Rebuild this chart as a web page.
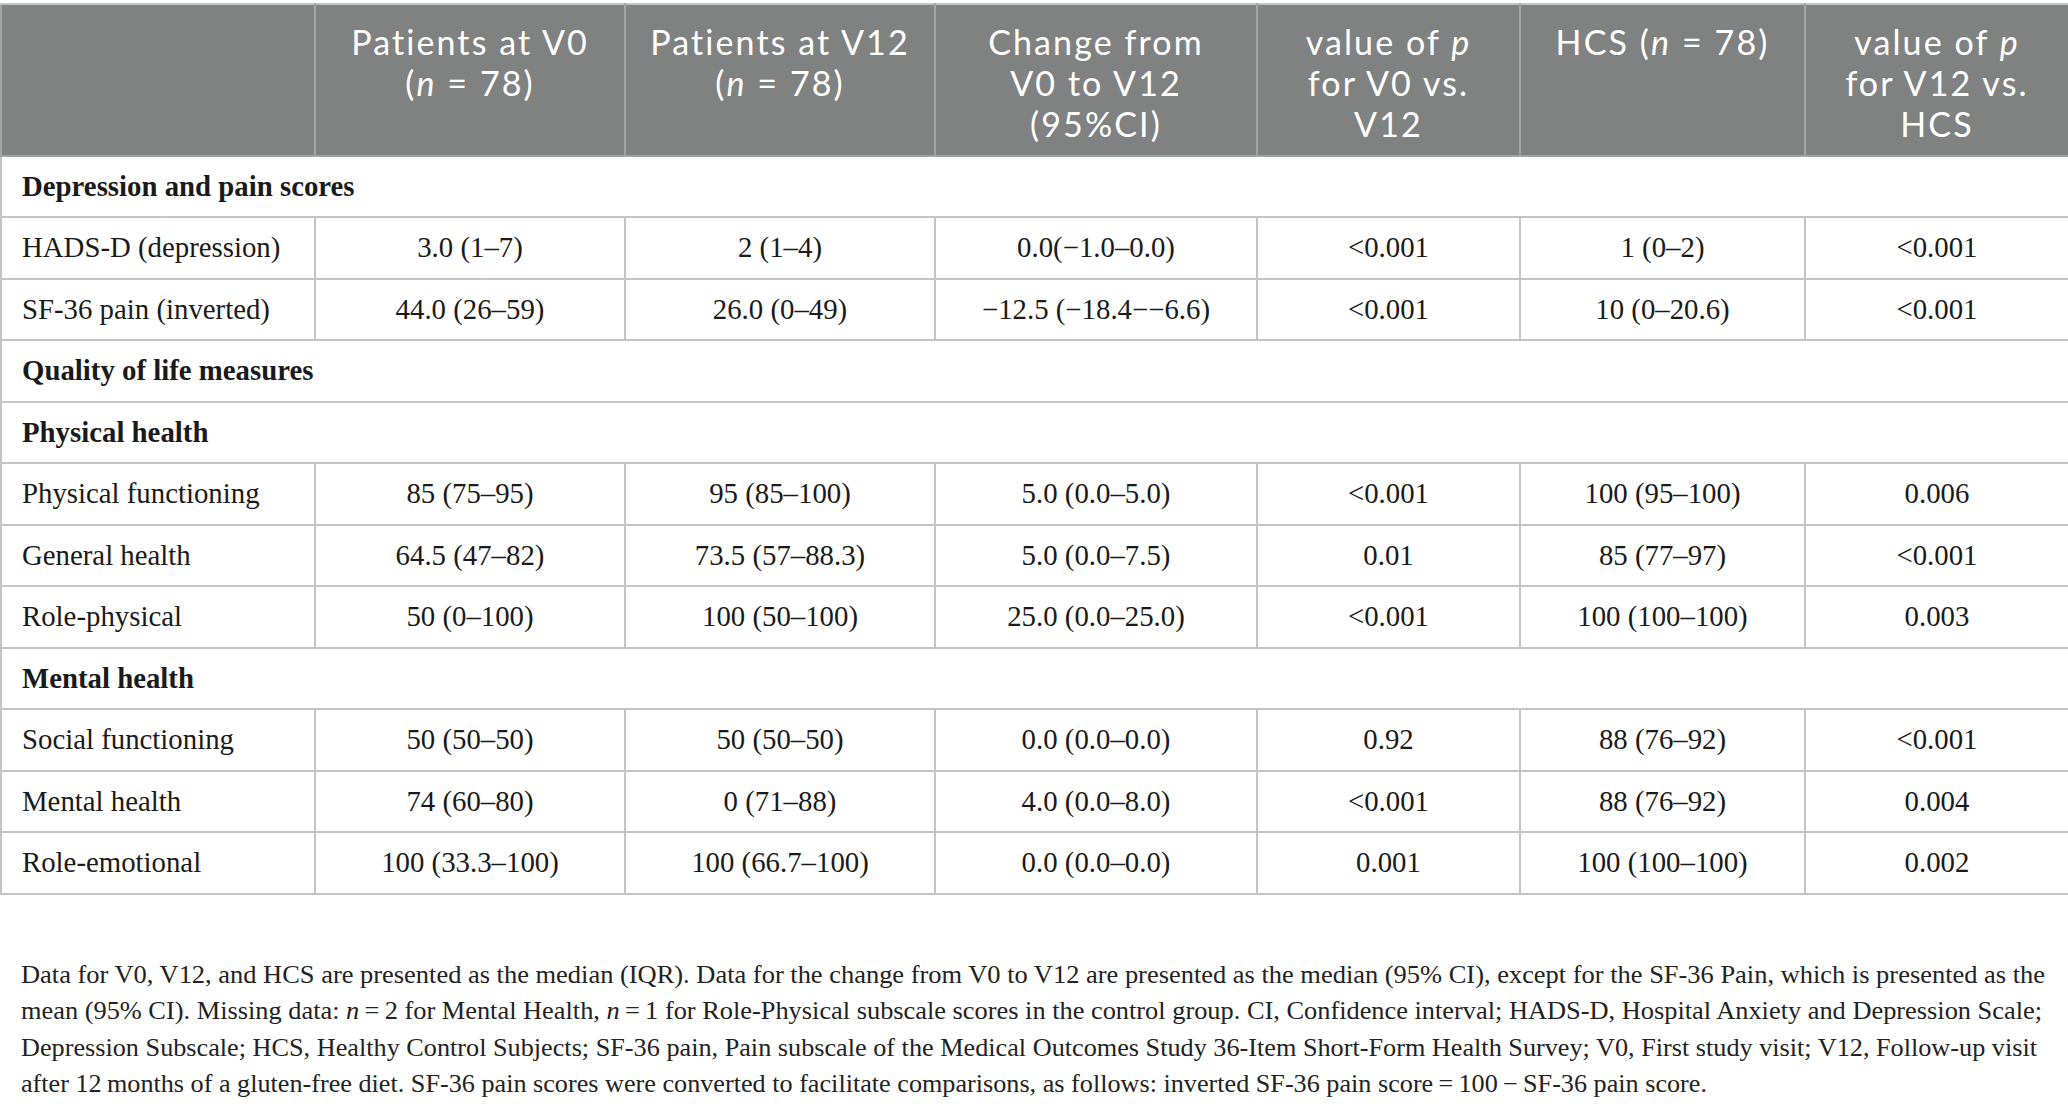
<!DOCTYPE html>
<html>
<head>
<meta charset="utf-8">
<script src="https://cdn.jsdelivr.net/npm/chart.js@4.4.1/dist/chart.umd.min.js"></script>
<style>
  html, body { margin: 0; padding: 0; background: #fff; }
  body { width: 2068px; height: 1111px; overflow: hidden; }
  #wrap { padding-top: 3px; }
  table { border-collapse: collapse; table-layout: fixed; width: 2068px; }
  th {
    background: #808281; color: #fff; font-family: Lato, "Open Sans", sans-serif;
    font-weight: 400; font-size: 34px; letter-spacing: 2.1px; line-height: 41px; vertical-align: top;
    text-align: center; padding: 16px 2px 0 2px; height: 133.5px;
    border: 2px solid #a4a6a5; border-top-color: #c4c4c4; white-space: nowrap;
  }
  td {
    font-family: "Liberation Serif", "DejaVu Serif", serif; font-size: 28.8px;
    color: #1a1a1a; height: 59.5px; padding: 0; text-align: center;
    border: 2px solid #c4c4c4; white-space: nowrap;
  }
  td.lbl { text-align: left; padding-left: 20px; }
  td.sec { text-align: left; padding-left: 20px; font-weight: bold; }
  #notes {
    margin: 62px 0 0 21px; font-family: "Liberation Serif", "DejaVu Serif", serif;
    font-size: 25.5px; line-height: 36.5px; color: #222; white-space: nowrap;
  }
  #notes div { transform-origin: left center; }
</style>
</head>
<body>
<div id="wrap">
  <table id="tbl"></table>
  <div id="notes"></div>
</div>
<script>
// column headers
const colWidths = [314, 310, 310, 322, 263, 285, 264];
const headers = [
  "",
  "Patients at V0<br>(<i>n</i> = 78)",
  "Patients at V12<br>(<i>n</i> = 78)",
  "Change from<br>V0 to V12<br>(95%CI)",
  "value of <i>p</i><br>for V0 vs.<br>V12",
  "HCS (<i>n</i> = 78)",
  "value of <i>p</i><br>for V12 vs.<br>HCS"
];

// section headings and which section each data row belongs to
const sections = ["Depression and pain scores", "Quality of life measures", "Physical health", "Mental health"];
const rowSection = [0, 0, 2, 2, 2, 3, 3, 3];

const rowLabels = ["HADS-D (depression)", "SF-36 pain (inverted)", "Physical functioning", "General health",
  "Role-physical", "Social functioning", "Mental health", "Role-emotional"];
const v0 = ["3.0 (1–7)", "44.0 (26–59)", "85 (75–95)", "64.5 (47–82)", "50 (0–100)", "50 (50–50)", "74 (60–80)", "100 (33.3–100)"];
const v12 = ["2 (1–4)", "26.0 (0–49)", "95 (85–100)", "73.5 (57–88.3)", "100 (50–100)", "50 (50–50)", "0 (71–88)", "100 (66.7–100)"];
const change = ["0.0(−1.0–0.0)", "−12.5 (−18.4−−6.6)", "5.0 (0.0–5.0)", "5.0 (0.0–7.5)", "25.0 (0.0–25.0)", "0.0 (0.0–0.0)", "4.0 (0.0–8.0)", "0.0 (0.0–0.0)"];
const pV0V12 = ["<0.001", "<0.001", "<0.001", "0.01", "<0.001", "0.92", "<0.001", "0.001"];
const hcs = ["1 (0–2)", "10 (0–20.6)", "100 (95–100)", "85 (77–97)", "100 (100–100)", "88 (76–92)", "88 (76–92)", "100 (100–100)"];
const pV12HCS = ["<0.001", "<0.001", "0.006", "<0.001", "0.003", "<0.001", "0.004", "0.002"];

const notes = [
  "Data for V0, V12, and HCS are presented as the median (IQR). Data for the change from V0 to V12 are presented as the median (95% CI), except for the SF-36 Pain, which is presented as the",
  "mean (95% CI). Missing data: <i>n</i>\u2009=\u20092 for Mental Health, <i>n</i>\u2009=\u20091 for Role-Physical subscale scores in the control group. CI, Confidence interval; HADS-D, Hospital Anxiety and Depression Scale;",
  "Depression Subscale; HCS, Healthy Control Subjects; SF-36 pain, Pain subscale of the Medical Outcomes Study 36-Item Short-Form Health Survey; V0, First study visit; V12, Follow-up visit",
  "after 12\u2009months of a gluten-free diet. SF-36 pain scores were converted to facilitate comparisons, as follows: inverted SF-36 pain score\u2009=\u2009100\u2009−\u2009SF-36 pain score."
];
const noteWidths = [2024, 2021, 2016, 1686];

const tbl = document.getElementById("tbl");
let cg = "<colgroup>" + colWidths.map(w => `<col style="width:${w}px">`).join("") + "</colgroup>";
let html = cg + "<tr>" + headers.map(h => `<th>${h}</th>`).join("") + "</tr>";
let nextSec = 0;
rowLabels.forEach((lbl, i) => {
  while (nextSec <= rowSection[i]) {
    html += `<tr><td class="sec" colspan="7">${sections[nextSec]}</td></tr>`;
    nextSec++;
  }
  const esc = s => s.replace(/</g, "&lt;");
  html += `<tr><td class="lbl">${lbl}</td><td>${v0[i]}</td><td>${v12[i]}</td><td>${change[i]}</td>` +
    `<td>${esc(pV0V12[i])}</td><td>${hcs[i]}</td><td>${esc(pV12HCS[i])}</td></tr>`;
});
tbl.innerHTML = html;

const notesEl = document.getElementById("notes");
notes.forEach((n, i) => {
  const d = document.createElement("div");
  const s = document.createElement("span");
  s.innerHTML = n;
  d.appendChild(s);
  notesEl.appendChild(d);
  const w = s.getBoundingClientRect().width;
  if (w > 0) d.style.transform = `scaleX(${noteWidths[i] / w})`;
});
</script>
</body>
</html>
